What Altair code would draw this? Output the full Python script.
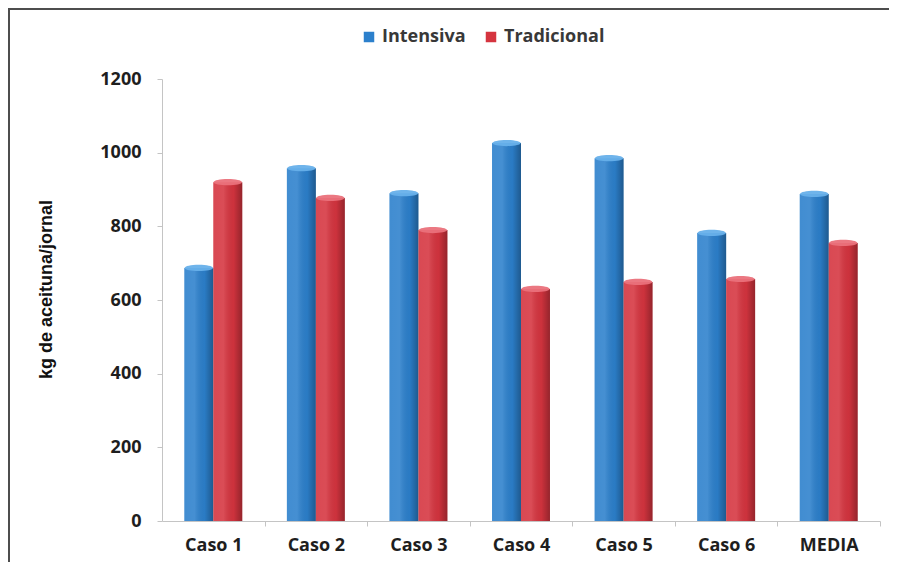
import altair as alt
import pandas as pd

categories = ["Caso 1", "Caso 2", "Caso 3", "Caso 4", "Caso 5", "Caso 6", "MEDIA"]
series = ["Intensiva", "Tradicional"]
intensiva = [687, 958, 890, 1026, 985, 782, 888]
tradicional = [920, 877, 790, 630, 649, 657, 755]
y_ticks = [0, 200, 400, 600, 800, 1000, 1200]
colors = ["#2c80cc", "#d5343f"]
cap_colors = ["#67b0ea", "#ea717b"]

rows = []
for c, a, b in zip(categories, intensiva, tradicional):
    rows.append({"cat": c, "serie": series[0], "val": a})
    rows.append({"cat": c, "serie": series[1], "val": b})
df = pd.DataFrame(rows)

W, H = 718, 442
STEP = W / len(categories)
FONT = "Open Sans"

x_enc = alt.X("cat:N", sort=categories, title=None,
              scale=alt.Scale(paddingInner=0.435, paddingOuter=0.2175),
              axis=alt.Axis(labelAngle=0, labelFont=FONT, labelFontWeight="bold",
                            labelFontSize=18, labelColor="#1e1e1e", labelPadding=10,
                            domainColor="#c4c4c4", tickColor="#c4c4c4", tickSize=5,
                            tickOffset=STEP / 2, labelOffset=-STEP / 2))
xo_enc = alt.XOffset("serie:N", sort=series)
y_enc = alt.Y("val:Q", title="kg de aceituna/jornal",
              scale=alt.Scale(domain=[0, 1200], nice=False),
              axis=alt.Axis(values=y_ticks, format="d", grid=False, labelFont=FONT,
                            labelFontWeight="bold", labelFontSize=18,
                            labelColor="#1e1e1e", labelPadding=16,
                            domainColor="#c4c4c4", tickColor="#c4c4c4", tickSize=5,
                            titleFont="Liberation Sans", titleFontWeight="bold",
                            titleFontSize=18, titleColor="#111111", titleAngle=-90,
                            titleX=-116, titleY=210, titleAlign="center",
                            titleBaseline="middle"))

base = alt.Chart(df)

bars = base.mark_bar().encode(
    x=x_enc, xOffset=xo_enc, y=y_enc,
    color=alt.Color("serie:N", sort=series, title=None,
                    scale=alt.Scale(domain=series, range=colors),
                    legend=alt.Legend(orient="none", legendX=198, legendY=-51,
                                      direction="horizontal", symbolType="square",
                                      symbolSize=110, symbolStrokeWidth=0,
                                      labelFont=FONT, labelFontWeight="bold",
                                      labelFontSize=18, labelColor="#383838",
                                      labelOffset=4, columnPadding=16)),
)

shade = base.mark_bar(
    color=alt.Gradient(gradient="linear", x1=0, x2=1, y1=0, y2=0,
                       stops=[alt.GradientStop(offset=0, color="rgba(255,255,255,0.10)"),
                              alt.GradientStop(offset=0.35, color="rgba(255,255,255,0.12)"),
                              alt.GradientStop(offset=0.7, color="rgba(0,0,0,0.04)"),
                              alt.GradientStop(offset=1, color="rgba(0,0,0,0.30)")])
).encode(x=x_enc, xOffset=xo_enc, y=y_enc)

caps = base.mark_point(
    shape="M-1,0A1,0.22,0,1,1,1,0A1,0.22,0,1,1,-1,0Z",
    filled=True, size=800, opacity=0.95, strokeWidth=0,
).encode(
    x=x_enc, xOffset=xo_enc, y=y_enc,
    fill=alt.Fill("serie:N", sort=series, legend=None,
                  scale=alt.Scale(domain=series, range=cap_colors)),
)

frame_df = pd.DataFrame({"k": [0]})
top_line = alt.Chart(frame_df).mark_rule(color="#4d4d4d", strokeWidth=2).encode(
    x=alt.value(-154), x2=alt.value(W + 9), y=alt.value(-70))
left_line = alt.Chart(frame_df).mark_rule(color="#4d4d4d", strokeWidth=2).encode(
    x=alt.value(-153), y=alt.value(-71), y2=alt.value(H + 41))

chart = alt.layer(bars, shade, caps, top_line, left_line).properties(
    width=W, height=H,
    background="white",
    autosize=alt.AutoSizeParams(type="none"),
    padding={"left": 154, "top": 71, "right": 9, "bottom": 41},
).configure_view(strokeWidth=0, stroke="transparent")

chart.save("out.html", embed_options={"renderer": "svg", "actions": False})
